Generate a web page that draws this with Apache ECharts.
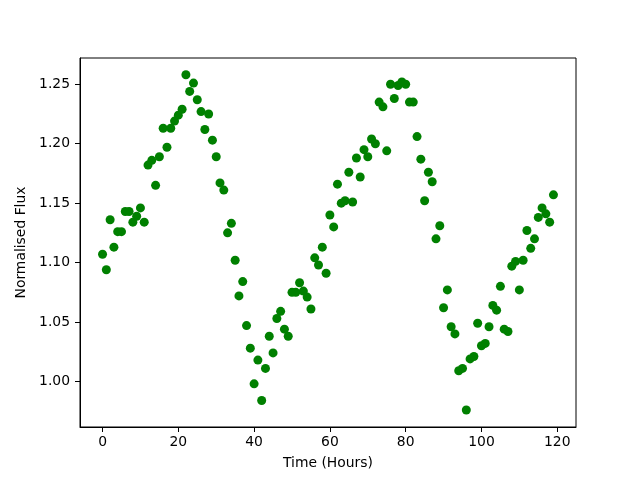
<!DOCTYPE html>
<html>
<head>
<meta charset="utf-8">
<script src="https://cdn.jsdelivr.net/npm/echarts@6/dist/echarts.min.js"></script>
<style>html,body{margin:0;padding:0;background:#fff}#c{width:640px;height:480px}</style>
</head>
<body>
<div id="c"></div>
<script>
const hours = Array.from({length: 120}, (_, i) => i);
const flux = [
  1.107, 1.094, 1.136, 1.113, 1.126, 1.126, 1.143, 1.143, 1.134, 1.139,
  1.146, 1.134, 1.182, 1.186, 1.165, 1.189, 1.213, 1.197, 1.213, 1.219,
  1.224, 1.229, 1.258, 1.244, 1.251, 1.237, 1.227, 1.212, 1.225, 1.203,
  1.189, 1.167, 1.161, 1.125, 1.133, 1.102, 1.072, 1.084, 1.047, 1.028,
  0.998, 1.018, 0.984, 1.011, 1.038, 1.024, 1.053, 1.059, 1.044, 1.038,
  1.075, 1.075, 1.083, 1.076, 1.071, 1.061, 1.104, 1.098, 1.113, 1.091,
  1.140, 1.130, 1.166, 1.150, 1.152, 1.176, 1.151, 1.188, 1.172, 1.195,
  1.189, 1.204, 1.200, 1.235, 1.231, 1.194, 1.250, 1.238, 1.249, 1.252,
  1.250, 1.235, 1.235, 1.206, 1.187, 1.152, 1.176, 1.168, 1.120, 1.131,
  1.062, 1.077, 1.046, 1.040, 1.009, 1.011, 0.976, 1.019, 1.021, 1.049,
  1.030, 1.032, 1.046, 1.064, 1.060, 1.080, 1.044, 1.042, 1.097, 1.101,
  1.077, 1.102, 1.127, 1.112, 1.120, 1.138, 1.146, 1.141, 1.134, 1.157
];
const xTicks = [0, 20, 40, 60, 80, 100, 120];
const yTicks = [1.00, 1.05, 1.10, 1.15, 1.20, 1.25];

const font = 'DejaVu Sans';
const chart = echarts.init(document.getElementById('c'), null, {renderer: 'canvas'});
chart.setOption({
  animation: false,
  backgroundColor: '#fff',
  grid: {left: 80, right: 64, top: 58, bottom: 53, show: true, borderColor: '#000', borderWidth: 1, backgroundColor: '#fff'},
  xAxis: {
    type: 'value', min: -5.95, max: 124.95,
    name: 'Time (Hours)', nameLocation: 'middle', nameGap: 29,
    nameTextStyle: {fontFamily: font, fontSize: 13.9, color: '#000'},
    axisLine: {show: true, onZero: false, lineStyle: {color: '#000', width: 1}},
    axisTick: {show: true, inside: false, length: 5, customValues: xTicks, lineStyle: {color: '#000'}},
    axisLabel: {customValues: xTicks, margin: 8, fontFamily: font, fontSize: 13.9, color: '#000'},
    splitLine: {show: false}
  },
  yAxis: {
    type: 'value', min: 0.9617, max: 1.2721,
    name: 'Normalised Flux', nameLocation: 'middle', nameGap: 46,
    nameTextStyle: {fontFamily: font, fontSize: 13.9, color: '#000'},
    axisLine: {show: true, onZero: false, lineStyle: {color: '#000', width: 1}},
    axisTick: {show: true, inside: false, length: 5, customValues: yTicks, lineStyle: {color: '#000'}},
    axisLabel: {customValues: yTicks, margin: 10, fontFamily: font, fontSize: 13.9, color: '#000',
      formatter: v => v.toFixed(2)},
    splitLine: {show: false}
  },
  series: [{
    type: 'scatter',
    data: hours.map((h, i) => [h, flux[i]]),
    symbol: 'circle', symbolSize: 9,
    itemStyle: {color: '#008000', opacity: 1}
  }]
});
</script>
</body>
</html>
